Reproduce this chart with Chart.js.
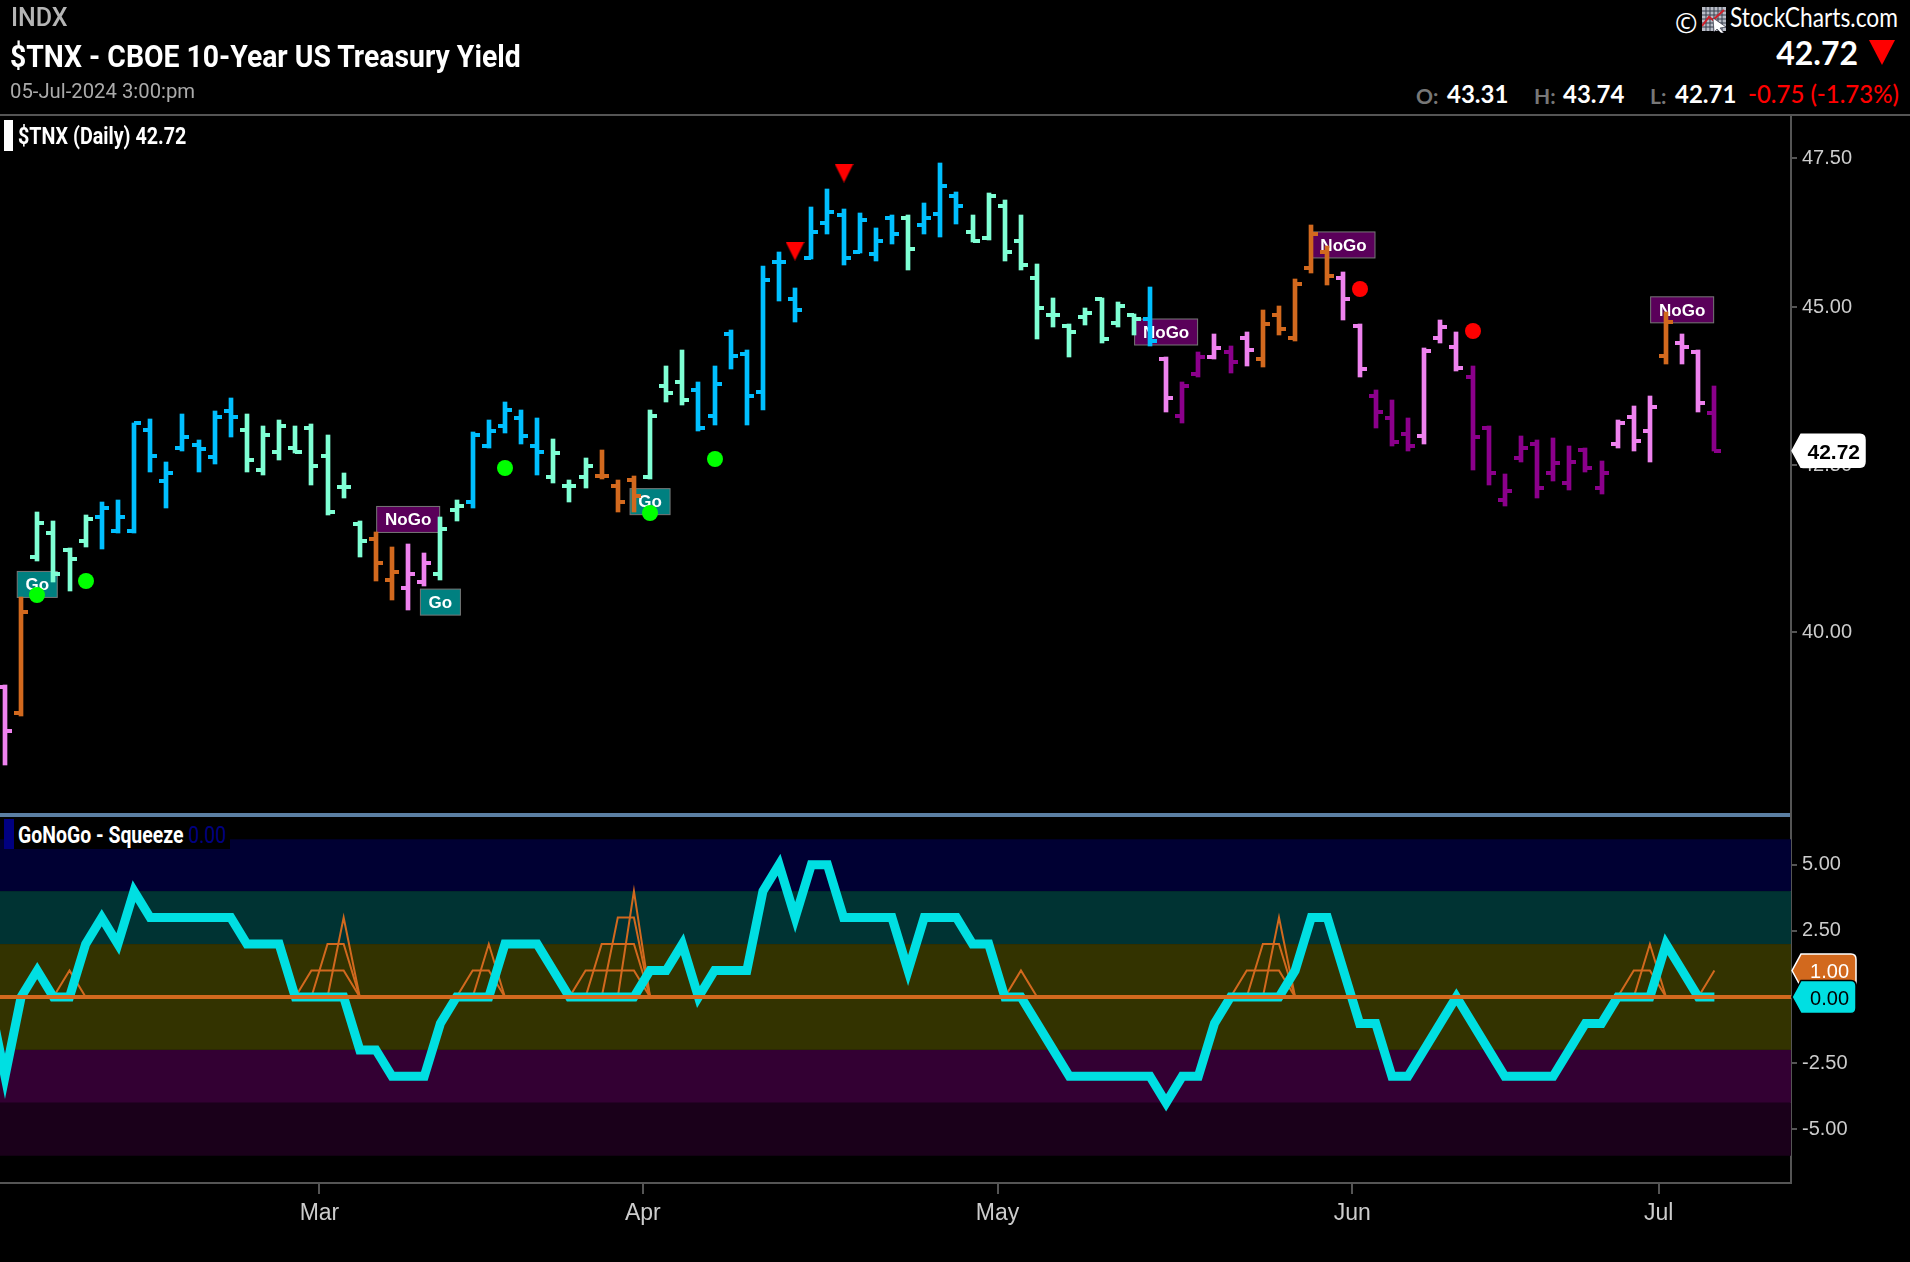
<!DOCTYPE html>
<html>
<head>
<meta charset="utf-8">
<title>$TNX - CBOE 10-Year US Treasury Yield</title>
<script src="https://cdn.jsdelivr.net/npm/chart.js@4"></script>
<style>
  html, body { margin: 0; padding: 0; background: #000; width: 1910px; height: 1262px; overflow: hidden; }
  canvas { position: absolute; left: 0; }
  #priceChart { top: 115px; }
  #squeezeChart { top: 816px; }
  .txt { position: absolute; white-space: nowrap; z-index: 5; line-height: 1; }
  .hdr { font-family: Roboto, sans-serif; }
  .quote { font-family: Lato, sans-serif; font-size: 24px; font-weight: 700; top: 82px; }
  .quote.key { font-size: 21px; top: 85px; }
  .rule { position: absolute; z-index: 4; }
</style>
</head>
<body>
<canvas id="priceChart" width="1910" height="699"></canvas>
<canvas id="squeezeChart" width="1910" height="446"></canvas>

<div class="rule" style="left:0;top:114px;width:1910px;height:2px;background:#555"></div>
<div class="rule" style="left:0;top:813px;width:1790px;height:4px;background:#5b7fa3"></div>
<div class="rule" style="left:1790px;top:813px;width:2px;height:4px;background:#555"></div>

<div class="txt hdr" style="left:11px;top:5px;font-size:25px;color:#b5b5b5;font-weight:500">INDX</div>
<div class="txt hdr" id="mainTitle" style="left:10px;top:40px;font-size:32px;color:#fff;font-weight:700;transform-origin:left top;transform:scaleX(.886)">$TNX - CBOE 10-Year US Treasury Yield</div>
<div class="txt hdr" style="left:10px;top:81px;font-size:20.3px;color:#aaa">05-Jul-2024 3:00:pm</div>

<div class="txt" style="left:1675px;top:4px;font:27px 'Open Sans',sans-serif;color:#fff">©</div>
<svg class="txt" style="left:1702px;top:7px" width="25" height="26" viewBox="0 0 25 26">
  <rect x="0" y="0" width="24" height="24" fill="#b9bcc6"/>
  <path d="M0 4H24M0 8H24M0 12H24M0 16H24M0 20H24M4 0V24M8 0V24M12 0V24M16 0V24M20 0V24" stroke="#39404f" stroke-width="1"/>
  <path d="M0 19L7 10L11 13L22 3" stroke="#d0202a" stroke-width="2" fill="none"/>
  <path d="M11 11L24 20L18 21L22 26L19 26L15 22L12 25Z" fill="#fff" stroke="#223" stroke-width=".6"/>
</svg>
<div class="txt" style="right:12px;top:1px;font:26px Lato,sans-serif;color:#fff;transform-origin:right top;transform:scaleX(.875)">StockCharts.com</div>

<div class="txt" style="right:52px;top:33px;font:700 32px Lato,sans-serif;color:#fff">42.72</div>
<svg class="txt" style="left:1869px;top:40px" width="27" height="26"><polygon points="0,0 26,0 13,25" fill="#f00"/></svg>

<div class="txt quote key" style="left:1416px;color:#777">O:</div>
<div class="txt quote" style="left:1447px;color:#fff">43.31</div>
<div class="txt quote key" style="left:1534px;color:#777">H:</div>
<div class="txt quote" style="left:1563px;color:#fff">43.74</div>
<div class="txt quote key" style="left:1650px;color:#777">L:</div>
<div class="txt quote" style="left:1675px;color:#fff">42.71</div>
<div class="txt quote" style="right:11px;color:#f00;font-weight:500">-0.75 (-1.73%)</div>

<div class="rule" style="left:4px;top:120px;width:9px;height:31px;background:#fff"></div>
<div class="txt hdr" style="left:18px;top:125px;font-size:23px;color:#fff;font-weight:700;transform-origin:left top;transform:scaleX(.857)">$TNX (Daily) 42.72</div>

<div class="rule" style="left:4px;top:819px;width:226px;height:30px;background:#000"></div>
<div class="rule" style="left:4px;top:819px;width:10px;height:30px;background:#000080"></div>
<div class="txt hdr" style="left:18px;top:824px;font-size:23px;color:#fff;font-weight:700;transform-origin:left top;transform:scaleX(.845)">GoNoGo - Squeeze <span style="color:#000080;font-weight:400">0.00</span></div>

<script>
// Daily OHLC values, 01-Feb-2024 to 05-Jul-2024
const opens = [39.21, 38.85, 41.10, 41.46, 41.21, 41.34, 41.70, 41.49, 41.49, 43.05, 42.25, 42.77, 42.81, 42.62, 43.34, 43.05, 42.43, 42.70, 42.77, 43.08, 42.64, 42.16, 41.60, 41.37, 40.77, 40.65, 40.74, 40.86, 41.82, 41.94, 42.80, 43.11, 43.23, 42.80, 42.31, 42.18, 42.31, 42.33, 42.18, 42.27, 42.31, 43.74, 43.80, 43.67, 43.26, 44.57, 44.25, 43.64, 45.75, 45.13, 45.82, 46.40, 46.53, 45.92, 45.88, 46.49, 46.49, 46.37, 46.55, 46.86, 46.24, 46.14, 46.69, 46.10, 45.48, 44.88, 44.70, 44.84, 45.13, 44.74, 44.88, 44.81, 44.16, 43.26, 43.93, 44.20, 44.28, 44.50, 44.16, 44.88, 44.50, 45.65, 45.92, 45.48, 44.70, 43.58, 43.23, 42.98, 42.95, 44.51, 44.36, 43.88, 43.08, 41.96, 42.61, 42.83, 42.37, 42.22, 42.73, 42.15, 42.83, 43.24, 43.02, 44.22, 44.42, 44.27, 43.31];
const highs = [39.24, 40.52, 41.78, 41.64, 41.24, 41.73, 41.94, 41.97, 43.16, 43.22, 42.55, 43.30, 42.89, 43.34, 43.55, 43.30, 43.11, 43.20, 43.11, 43.14, 42.96, 42.37, 41.65, 41.48, 41.25, 41.30, 41.16, 41.70, 41.97, 43.01, 43.20, 43.48, 43.36, 43.23, 42.91, 42.27, 42.61, 42.73, 42.27, 42.33, 43.36, 44.05, 44.31, 43.80, 44.05, 44.64, 44.31, 45.68, 45.91, 45.32, 46.66, 46.97, 46.63, 46.56, 46.32, 46.53, 46.53, 46.73, 47.41, 46.93, 46.53, 46.90, 46.79, 46.53, 45.71, 45.16, 44.73, 44.99, 45.15, 45.09, 44.90, 45.33, 44.19, 43.80, 44.28, 44.56, 44.38, 44.60, 44.96, 45.03, 45.47, 46.36, 46.01, 45.58, 44.73, 43.67, 43.51, 43.23, 44.35, 44.79, 44.60, 44.05, 43.11, 42.36, 42.95, 42.89, 42.92, 42.79, 42.76, 42.57, 43.20, 43.42, 43.58, 44.92, 44.56, 44.31, 43.74];
const lows = [38.12, 38.80, 41.04, 40.74, 40.60, 41.25, 41.22, 41.46, 41.46, 42.40, 41.85, 42.71, 42.40, 42.52, 42.93, 42.40, 42.34, 42.58, 42.68, 42.19, 41.74, 42.00, 41.10, 40.75, 40.47, 40.32, 40.68, 40.77, 41.64, 41.85, 42.77, 42.99, 42.83, 42.34, 42.22, 41.94, 42.15, 42.28, 41.79, 41.79, 42.28, 43.49, 43.43, 43.02, 43.12, 44.00, 43.12, 43.36, 45.10, 44.77, 45.79, 46.21, 45.69, 45.89, 45.76, 46.05, 45.62, 46.21, 46.17, 46.38, 46.08, 46.11, 45.76, 45.62, 44.48, 44.68, 44.19, 44.71, 44.42, 44.68, 44.55, 44.38, 43.33, 43.15, 43.88, 44.16, 43.94, 44.06, 44.03, 44.55, 44.45, 45.56, 45.36, 44.80, 43.88, 43.08, 42.80, 42.71, 42.83, 44.42, 43.98, 42.43, 42.19, 41.87, 42.55, 42.00, 42.25, 42.12, 42.40, 42.06, 42.77, 42.71, 42.55, 44.09, 44.09, 43.33, 42.71];
const closes = [38.59, 40.29, 41.61, 40.86, 41.08, 41.67, 41.85, 41.70, 43.15, 42.64, 42.37, 42.93, 42.75, 43.24, 43.24, 42.58, 42.96, 43.11, 42.70, 42.49, 41.78, 42.16, 41.34, 41.01, 40.89, 40.86, 41.01, 41.52, 41.87, 42.96, 43.02, 43.36, 42.95, 42.70, 42.68, 42.18, 42.49, 42.33, 41.94, 42.03, 43.26, 43.62, 43.52, 43.08, 43.77, 44.22, 43.58, 45.45, 45.75, 44.95, 46.24, 46.59, 45.82, 46.45, 46.09, 46.21, 45.96, 46.49, 47.03, 46.69, 46.10, 46.86, 45.92, 45.69, 44.99, 44.88, 44.60, 44.91, 44.48, 45.03, 44.81, 44.45, 43.55, 43.74, 44.20, 44.35, 44.12, 44.31, 44.73, 44.65, 45.38, 46.21, 45.52, 45.13, 44.00, 43.33, 42.86, 42.80, 44.29, 44.68, 44.02, 42.93, 42.37, 42.10, 42.77, 42.15, 42.53, 42.55, 42.46, 42.37, 43.15, 42.87, 43.40, 44.77, 44.36, 43.46, 42.72];
// GoNoGo state of each bar
const barStates = ['v','o','a','a','a','a','b','b','b','b','b','b','b','b','b','a','a','a','a','a','a','a','a','o','o','v','v','a','a','b','b','b','b','b','a','a','a','o','o','o','a','a','a','b','b','b','b','b','b','b','b','b','b','b','b','b','a','b','b','b','a','a','a','a','a','a','a','a','a','a','a','b','v','p','p','v','p','v','o','o','o','o','o','v','v','p','p','p','v','v','v','p','p','p','p','p','p','p','p','p','v','v','v','o','v','v','p'];
const stateColors = { v: '#EE82EE', o: '#D2691E', a: '#7FFFD4', b: '#00BFFF', p: '#8B008B' };

// Signals on the price panel
const goDotBars = [2, 5, 31, 40, 44];
const goDotValues = [40.54, 40.75, 42.46, 41.77, 42.60];
const noGoDotBars = [84, 91];
const noGoDotValues = [45.30, 44.62];
const triangleBars = [49, 52];
const triangleValues = [45.93, 47.24];
const labelBars = [2, 25, 27, 40, 72, 83, 104];
const labelValues = [40.70, 41.67, 40.44, 41.94, 44.60, 46.03, 44.96];
const labelTexts = ['Go', 'NoGo', 'Go', 'Go', 'NoGo', 'NoGo', 'NoGo'];

// Oscillator starts one bar before the first price bar, that bar is cut off by the left edge
const oscillatorValues = [0, -3, 0, 1, 0, 0, 2, 3, 2, 4, 3, 3, 3, 3, 3, 3, 2, 2, 2, 0, 0, 0, 0, -2, -2, -3, -3, -3, -1, 0, 0, 0, 2, 2, 2, 1, 0, 0, 0, 0, 0, 1, 1, 2, 0, 1, 1, 1, 4, 5, 3, 5, 5, 3, 3, 3, 3, 1, 3, 3, 3, 2, 2, 0, 0, -1, -2, -3, -3, -3, -3, -3, -3, -4, -3, -3, -1, 0, 0, 0, 0, 1, 3, 3, 1, -1, -1, -3, -3, -2, -1, 0, -1, -2, -3, -3, -3, -3, -2, -1, -1, 0, 0, 0, 2, 1, 0, 0];
const squeezeLevels = [0, 0, 0, 0, 1, 0, 0, 0, 0, 0, 0, 0, 0, 0, 0, 0, 0, 0, 0, 1, 2, 3, 0, 0, 0, 0, 0, 0, 0, 1, 2, 0, 0, 0, 0, 0, 1, 2, 3, 4, 0, 0, 0, 0, 0, 0, 0, 0, 0, 0, 0, 0, 0, 0, 0, 0, 0, 0, 0, 0, 0, 0, 0, 1, 0, 0, 0, 0, 0, 0, 0, 0, 0, 0, 0, 0, 0, 1, 2, 3, 0, 0, 0, 0, 0, 0, 0, 0, 0, 0, 0, 0, 0, 0, 0, 0, 0, 0, 0, 0, 0, 1, 2, 0, 0, 0, 1];

// Axis labels, month ticks sit between the last bar of a month and the first of the next
const priceTicks = [40, 42.5, 45, 47.5];
const squeezeTicks = [-5, -2.5, 2.5, 5];
const monthNames = ['Mar', 'Apr', 'May', 'Jun', 'Jul'];
const monthTicks = [19.5, 39.55, 61.55, 83.55, 102.55];
const bandEdges = [5.96, 4, 2, -2, -4, -6];
const bandColors = ['#000033', '#003333', '#333300', '#330033', '#1a001a'];
const lastClose = 42.72;
const lastSqueeze = 1;
const lastOscillator = 0;

const xMin = -0.31;
const xMax = 110.75;
const axisColor = '#555';
const tickColor = '#ccc';
const tickFont = { family: '"Liberation Sans"', size: 20 };

// Small canvases used as point styles for the open and close ticks
const tickCache = {};
function tickStyle(color, side) {
  const key = color + side;
  if (!tickCache[key]) {
    const c = document.createElement('canvas');
    c.width = 14;
    c.height = 4;
    const g = c.getContext('2d');
    g.fillStyle = color;
    g.fillRect(side === 'left' ? 0 : 7, 0, 7, 4);
    tickCache[key] = c;
  }
  return tickCache[key];
}

function triangleStyle() {
  const c = document.createElement('canvas');
  c.width = 19;
  c.height = 19;
  const g = c.getContext('2d');
  g.fillStyle = '#f00';
  g.beginPath();
  g.moveTo(0, 0);
  g.lineTo(19, 0);
  g.lineTo(9.5, 19);
  g.closePath();
  g.fill();
  return c;
}

function pairs(xs, ys) {
  return xs.map((x, i) => ({ x: x, y: ys[i] }));
}

// Value tag on the right axis
function drawTag(ctx, y, text, fill, edge, textColor, font, right, textX) {
  const left = 1792;
  ctx.save();
  ctx.beginPath();
  ctx.moveTo(left, y);
  ctx.lineTo(left + 9, y - 16.5);
  ctx.lineTo(right - 5, y - 16.5);
  ctx.quadraticCurveTo(right, y - 16.5, right, y - 11);
  ctx.lineTo(right, y + 11);
  ctx.quadraticCurveTo(right, y + 16.5, right - 5, y + 16.5);
  ctx.lineTo(left + 9, y + 16.5);
  ctx.closePath();
  ctx.fillStyle = fill;
  ctx.fill();
  ctx.lineWidth = 1.5;
  ctx.strokeStyle = edge;
  ctx.stroke();
  ctx.fillStyle = textColor;
  ctx.font = font;
  ctx.textAlign = 'right';
  ctx.textBaseline = 'middle';
  ctx.fillText(text, textX, y + 2);
  ctx.restore();
}

// Snap the bars and ticks to whole pixels so they stay crisp
const snapMarks = {
  id: 'snapMarks',
  beforeDatasetsDraw(chart) {
    chart.getSortedVisibleDatasetMetas().forEach(meta => {
      meta.data.forEach(el => {
        el.x = Math.round(el.x);
        el.y = Math.round(el.y);
        if (el.base !== undefined) el.base = Math.round(el.base);
      });
    });
  }
};

// Go and NoGo boxes, drawn under the bars
const signalLabels = {
  id: 'signalLabels',
  beforeDatasetsDraw(chart) {
    const ctx = chart.ctx;
    ctx.save();
    labelBars.forEach((bar, i) => {
      const x = chart.scales.x.getPixelForValue(bar);
      const y = chart.scales.y.getPixelForValue(labelValues[i]);
      const isGo = labelTexts[i] === 'Go';
      const w = isGo ? 40 : 63;
      ctx.fillStyle = isGo ? '#008080' : '#5a005a';
      ctx.strokeStyle = '#777';
      ctx.lineWidth = 1;
      ctx.fillRect(x - w / 2, y - 13, w, 26);
      ctx.strokeRect(x - w / 2, y - 13, w, 26);
      ctx.fillStyle = '#fff';
      ctx.font = 'bold 17px "Liberation Sans"';
      ctx.textAlign = 'center';
      ctx.textBaseline = 'middle';
      ctx.fillText(labelTexts[i], x, y + 1);
    });
    ctx.restore();
  }
};

const priceTag = {
  id: 'priceTag',
  afterDraw(chart) {
    const y = chart.scales.y.getPixelForValue(lastClose);
    drawTag(chart.ctx, y, lastClose.toFixed(2), '#fff', '#fff', '#000', 'bold 21px "Liberation Sans"', 1865, 1860);
  }
};

// Colored zones behind the oscillator
const squeezeBands = {
  id: 'squeezeBands',
  beforeDatasetsDraw(chart) {
    const ctx = chart.ctx;
    const area = chart.chartArea;
    const yScale = chart.scales.y;
    ctx.save();
    bandColors.forEach((color, i) => {
      const top = yScale.getPixelForValue(bandEdges[i]);
      const bottom = yScale.getPixelForValue(bandEdges[i + 1]);
      ctx.fillStyle = color;
      ctx.fillRect(area.left, top, area.right - area.left, bottom - top);
    });
    ctx.restore();
  }
};

const squeezeTags = {
  id: 'squeezeTags',
  afterDraw(chart) {
    const yScale = chart.scales.y;
    const font = '20px "Liberation Sans"';
    drawTag(chart.ctx, yScale.getPixelForValue(lastSqueeze), lastSqueeze.toFixed(2), '#D2691E', '#fff', '#fff', font, 1856, 1849);
    drawTag(chart.ctx, yScale.getPixelForValue(lastOscillator), lastOscillator.toFixed(2), '#00DFE2', '#000', '#000', font, 1856, 1849);
  }
};

function yAxis(type, min, max, ticks, extra) {
  return Object.assign({
    type: type,
    position: 'right',
    min: min,
    max: max,
    border: { display: true, color: axisColor, width: 2 },
    grid: { drawOnChartArea: false, color: axisColor, tickLength: 6, lineWidth: 2 },
    ticks: {
      color: tickColor,
      font: tickFont,
      padding: 5,
      autoSkip: false,
      callback: v => Number(v).toFixed(2)
    },
    afterBuildTicks: scale => { scale.ticks = ticks.map(v => ({ value: v })); },
    afterFit: scale => {
      scale.width = 119;
      scale.paddingTop = 0;
      scale.paddingBottom = 0;
    }
  }, extra || {});
}

// Price panel
const openPoints = opens.map((v, i) => ({ x: i, y: v }));
const closePoints = closes.map((v, i) => ({ x: i, y: v }));

new Chart(document.getElementById('priceChart'), {
  type: 'bar',
  data: {
    datasets: [
      {
        type: 'scatter', label: 'NoGo trend', order: 0,
        data: pairs(triangleBars, triangleValues),
        pointStyle: triangleStyle(), pointRadius: 9
      },
      {
        type: 'scatter', label: 'Go dots', order: 0,
        data: pairs(goDotBars, goDotValues),
        pointStyle: 'circle', pointRadius: 8, pointBackgroundColor: '#00ff00', pointBorderWidth: 0
      },
      {
        type: 'scatter', label: 'NoGo dots', order: 0,
        data: pairs(noGoDotBars, noGoDotValues),
        pointStyle: 'circle', pointRadius: 8, pointBackgroundColor: '#ff0000', pointBorderWidth: 0
      },
      {
        type: 'scatter', label: 'Open', order: 1,
        data: openPoints,
        pointRadius: 1,
        pointStyle: c => tickStyle(stateColors[barStates[c.dataIndex]], 'left')
      },
      {
        type: 'scatter', label: 'Close', order: 1,
        data: closePoints,
        pointRadius: 1,
        pointStyle: c => tickStyle(stateColors[barStates[c.dataIndex]], 'right')
      },
      {
        label: 'High-Low', order: 2,
        data: lows.map((low, i) => ({ x: i, y: [low, highs[i]] })),
        backgroundColor: barStates.map(s => stateColors[s]),
        borderWidth: 0,
        barThickness: 4
      }
    ]
  },
  options: {
    responsive: false,
    devicePixelRatio: 1,
    animation: false,
    events: [],
    layout: { padding: 0, autoPadding: false },
    plugins: { legend: { display: false }, tooltip: { enabled: false } },
    scales: {
      x: { type: 'linear', min: xMin, max: xMax, offset: false, display: false, grid: { offset: false } },
      y: yAxis('logarithmic', 37.45, 48.25, priceTicks)
    }
  },
  plugins: [snapMarks, signalLabels, priceTag]
});

// GoNoGo squeeze panel
const squeezeLines = [1, 2, 3, 4].map(level => ({
  label: 'Squeeze ' + level,
  order: 2,
  data: squeezeLevels.map((s, i) => ({ x: i, y: s >= level ? level : 0 })),
  borderColor: '#D2691E',
  borderWidth: 2,
  pointRadius: 0,
  tension: 0
}));

new Chart(document.getElementById('squeezeChart'), {
  type: 'line',
  data: {
    datasets: [
      {
        label: 'Zero', order: 0,
        data: [{ x: xMin, y: 0 }, { x: xMax, y: 0 }],
        borderColor: '#D2691E', borderWidth: 4, pointRadius: 0
      },
      {
        label: 'GoNoGo Oscillator', order: 1,
        data: oscillatorValues.map((v, i) => ({ x: i - 1, y: v })),
        borderColor: '#00DFE2', borderWidth: 9, borderJoinStyle: 'miter', borderCapStyle: 'butt',
        pointRadius: 0, tension: 0
      }
    ].concat(squeezeLines)
  },
  options: {
    responsive: false,
    devicePixelRatio: 1,
    animation: false,
    events: [],
    layout: { padding: 0, autoPadding: false },
    plugins: { legend: { display: false }, tooltip: { enabled: false } },
    scales: {
      x: {
        type: 'linear',
        min: xMin,
        max: xMax,
        border: { display: true, color: axisColor, width: 2 },
        grid: { drawOnChartArea: false, color: axisColor, tickLength: 11, lineWidth: 2 },
        ticks: {
          color: tickColor,
          font: { family: '"Liberation Sans"', size: 23 },
          padding: 6,
          autoSkip: false,
          maxRotation: 0,
          callback: v => monthNames[monthTicks.indexOf(v)]
        },
        afterBuildTicks: scale => { scale.ticks = monthTicks.map(v => ({ value: v })); },
        afterFit: scale => { scale.height = 79; }
      },
      y: yAxis('linear', -7.03, 6.84, squeezeTicks)
    }
  },
  plugins: [squeezeBands, squeezeTags]
});
</script>
</body>
</html>
